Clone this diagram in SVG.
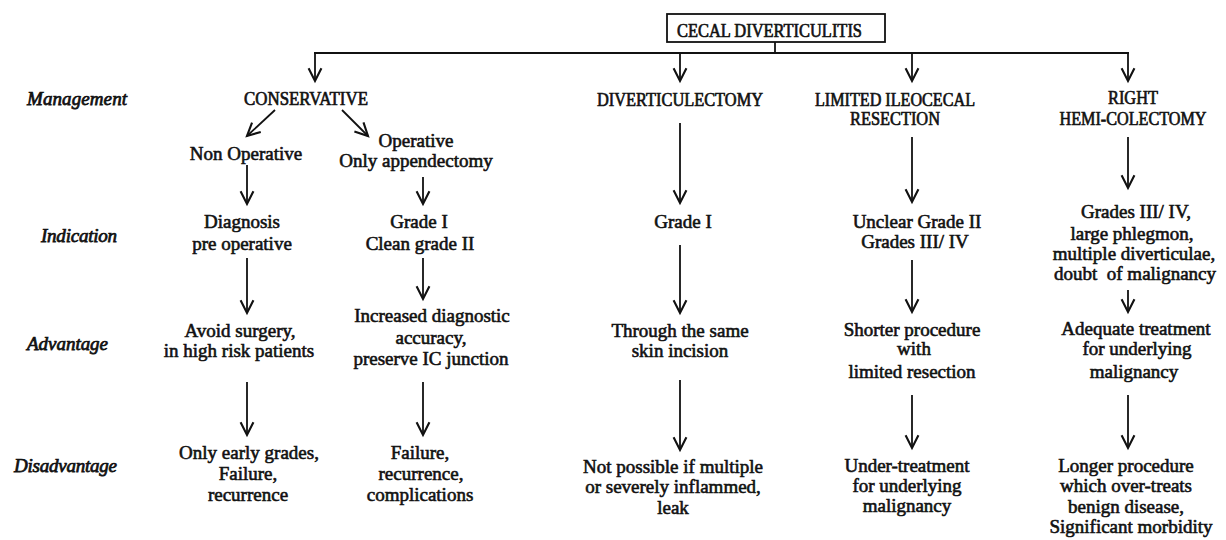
<svg xmlns="http://www.w3.org/2000/svg" width="1226" height="540" viewBox="0 0 1226 540">
<defs>
<marker id="ah" markerUnits="userSpaceOnUse" markerWidth="14" markerHeight="14" viewBox="0 0 12 12" refX="11" refY="6" orient="auto" overflow="visible">
<path d="M0,0.5 L11,6 L0,11.5" fill="none" stroke="#111" stroke-width="1.8" stroke-linejoin="miter"/>
</marker>
</defs>
<style>
.t{font-family:"Liberation Serif","Times New Roman",serif;font-size:19px;fill:#111;stroke:#111;stroke-width:0.6px;text-anchor:middle}
.h{font-family:"Liberation Serif","Times New Roman",serif;font-size:18px;fill:#111;stroke:#111;stroke-width:0.65px;text-anchor:middle}
.l{font-family:"Liberation Serif","Times New Roman",serif;font-size:19px;font-style:italic;fill:#111;stroke:#111;stroke-width:0.75px}
.c{fill:none;stroke:#111;stroke-width:1.8}
.a{fill:none;stroke:#111;stroke-width:1.8;marker-end:url(#ah)}
</style>
<rect width="1226" height="540" fill="#fff"/>

<g id="connectors">
<line class="c" x1="775" y1="42" x2="775" y2="53"/>
<line class="c" x1="314" y1="53" x2="1129" y2="53"/>
<line class="a" x1="315" y1="53" x2="315" y2="81"/>
<line class="a" x1="680" y1="53" x2="680" y2="81"/>
<line class="a" x1="912" y1="53" x2="912" y2="81"/>
<line class="a" x1="1128" y1="53" x2="1128" y2="81"/>
<line class="a" x1="275" y1="110" x2="247" y2="136"/>
<line class="a" x1="342" y1="110" x2="368" y2="136"/>
<line class="a" x1="247" y1="165" x2="247" y2="204"/>
<line class="a" x1="247" y1="258" x2="247" y2="313"/>
<line class="a" x1="247" y1="382" x2="247" y2="435"/>
<line class="a" x1="423" y1="177" x2="423" y2="204"/>
<line class="a" x1="423" y1="258" x2="423" y2="299"/>
<line class="a" x1="423" y1="382" x2="423" y2="435"/>
<line class="a" x1="680" y1="123" x2="680" y2="203"/>
<line class="a" x1="680" y1="245" x2="680" y2="313"/>
<line class="a" x1="680" y1="380" x2="680" y2="450"/>
<line class="a" x1="912" y1="137" x2="912" y2="202"/>
<line class="a" x1="912" y1="260" x2="912" y2="312"/>
<line class="a" x1="912" y1="395" x2="912" y2="448"/>
<line class="a" x1="1128" y1="137" x2="1128" y2="188"/>
<line class="a" x1="1128" y1="290" x2="1128" y2="312"/>
<line class="a" x1="1128" y1="395" x2="1128" y2="448"/>
</g>

<g id="row-labels">
<text class="l" x="27" y="105" textLength="100">Management</text>
<text class="l" x="41" y="242" textLength="76">Indication</text>
<text class="l" x="27" y="350" textLength="81">Advantage</text>
<text class="l" x="14" y="472" textLength="103">Disadvantage</text>
</g>

<g id="root">
<rect x="667" y="14" width="218" height="28" fill="none" stroke="#111" stroke-width="1.8"/>
<text class="h" x="677" y="37" style="text-anchor:start" textLength="185" lengthAdjust="spacingAndGlyphs">CECAL DIVERTICULITIS</text>
</g>

<g id="conservative">
<text class="h" x="306" y="105" textLength="124" lengthAdjust="spacingAndGlyphs">CONSERVATIVE</text>
</g>

<g id="non-operative">
<text class="t" x="246" y="160">Non Operative</text>
</g>
<g id="non-op-indication">
<text class="t" x="242" y="228">Diagnosis</text>
<text class="t" x="242" y="250">pre operative</text>
</g>
<g id="non-op-advantage">
<text class="t" x="240" y="337">Avoid surgery,</text>
<text class="t" x="239" y="357">in high risk patients</text>
</g>
<g id="non-op-disadvantage">
<text class="t" x="249" y="459">Only early grades,</text>
<text class="t" x="248" y="480">Failure,</text>
<text class="t" x="248" y="501">recurrence</text>
</g>

<g id="operative">
<text class="t" x="416" y="147">Operative</text>
<text class="t" x="416" y="167">Only appendectomy</text>
</g>
<g id="op-indication">
<text class="t" x="419" y="228">Grade I</text>
<text class="t" x="420" y="250">Clean grade II</text>
</g>
<g id="op-advantage">
<text class="t" x="432" y="322">Increased diagnostic</text>
<text class="t" x="431" y="344">accuracy,</text>
<text class="t" x="431" y="365">preserve IC junction</text>
</g>
<g id="op-disadvantage">
<text class="t" x="420" y="459">Failure,</text>
<text class="t" x="421" y="480">recurrence,</text>
<text class="t" x="420" y="501">complications</text>
</g>

<g id="diverticulectomy">
<text class="h" x="680" y="106" textLength="166" lengthAdjust="spacingAndGlyphs">DIVERTICULECTOMY</text>
</g>
<g id="div-indication">
<text class="t" x="683" y="228">Grade I</text>
</g>
<g id="div-advantage">
<text class="t" x="680" y="337">Through the same</text>
<text class="t" x="680" y="357">skin incision</text>
</g>
<g id="div-disadvantage">
<text class="t" x="673" y="473">Not possible if multiple</text>
<text class="t" x="673" y="493">or severely inflammed,</text>
<text class="t" x="673" y="514">leak</text>
</g>

<g id="limited-ileocecal">
<text class="h" x="895" y="106" textLength="160" lengthAdjust="spacingAndGlyphs">LIMITED ILEOCECAL</text>
<text class="h" x="895" y="125" textLength="90" lengthAdjust="spacingAndGlyphs">RESECTION</text>
</g>
<g id="lim-indication">
<text class="t" x="917" y="228">Unclear Grade II</text>
<text class="t" x="915" y="248">Grades III/ IV</text>
</g>
<g id="lim-advantage">
<text class="t" x="912" y="336">Shorter procedure</text>
<text class="t" x="914" y="355">with</text>
<text class="t" x="912" y="378">limited resection</text>
</g>
<g id="lim-disadvantage">
<text class="t" x="907" y="472">Under-treatment</text>
<text class="t" x="907" y="492">for underlying</text>
<text class="t" x="907" y="512">malignancy</text>
</g>

<g id="right-hemicolectomy">
<text class="h" x="1133" y="104" textLength="50" lengthAdjust="spacingAndGlyphs">RIGHT</text>
<text class="h" x="1133" y="125" textLength="147" lengthAdjust="spacingAndGlyphs">HEMI-COLECTOMY</text>
</g>
<g id="rhc-indication">
<text class="t" x="1136" y="218">Grades III/ IV,</text>
<text class="t" x="1132" y="240">large phlegmon,</text>
<text class="t" x="1134" y="260">multiple diverticulae,</text>
<text class="t" x="1135" y="280" xml:space="preserve">doubt  of malignancy</text>
</g>
<g id="rhc-advantage">
<text class="t" x="1136" y="335">Adequate treatment</text>
<text class="t" x="1137" y="355">for underlying</text>
<text class="t" x="1134" y="378">malignancy</text>
</g>
<g id="rhc-disadvantage">
<text class="t" x="1126" y="472">Longer procedure</text>
<text class="t" x="1126" y="492">which over-treats</text>
<text class="t" x="1126" y="513">benign disease,</text>
<text class="t" x="1131" y="533">Significant morbidity</text>
</g>
</svg>
